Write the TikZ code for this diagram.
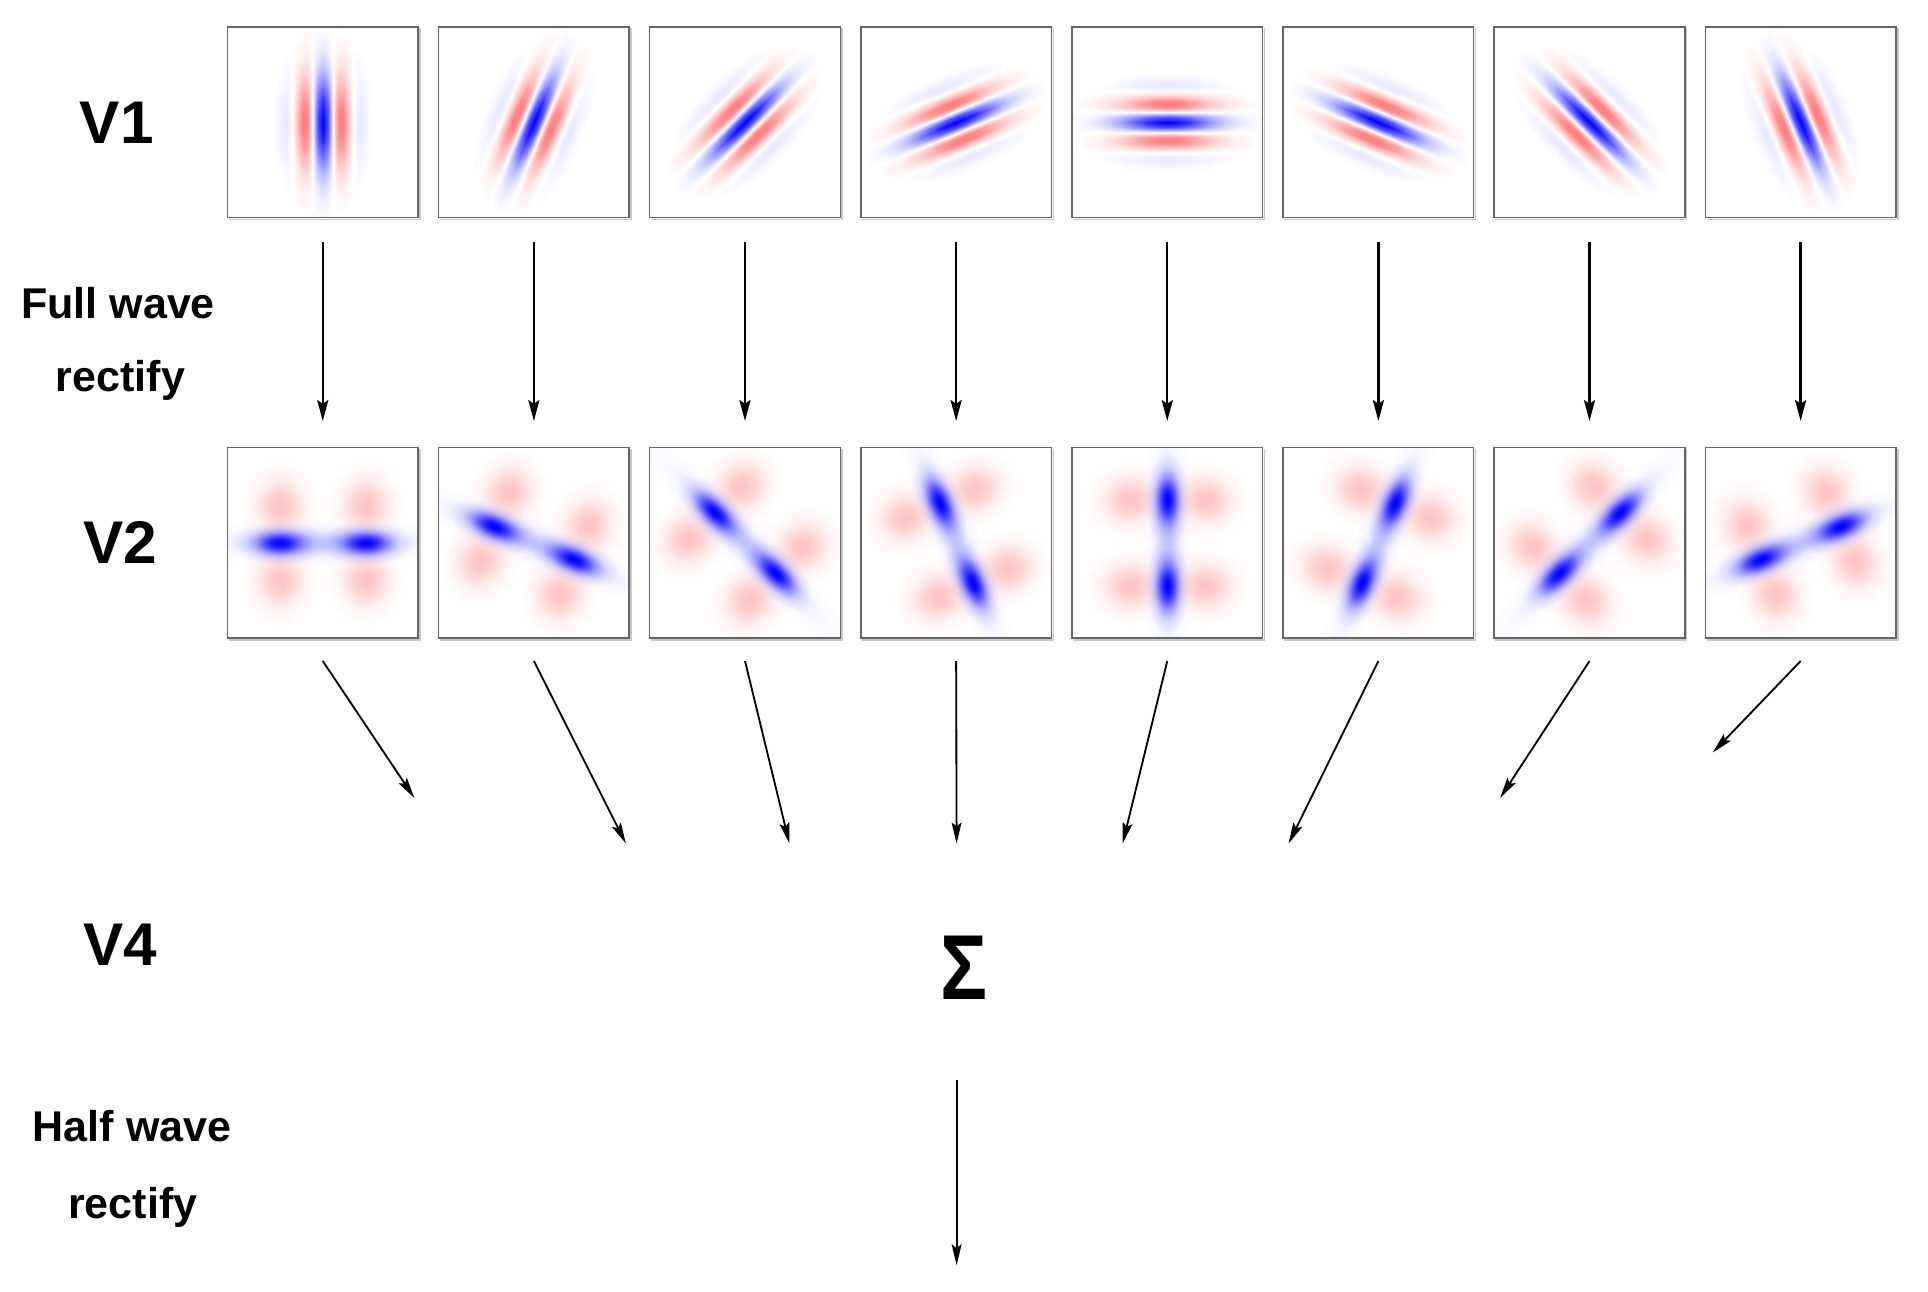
\documentclass[tikz,border=0pt]{standalone}
\usepackage{fontspec}
\usepackage{graphicx}
\setmainfont{Liberation Sans}
\usetikzlibrary{arrows.meta,fadings}

% Gaussian fading (sigma = 25bp/3), fitted so that 3 sigma = path half size
\pgfdeclareradialshading{gaussshade}{\pgfpointorigin}{color(0bp)=(white); color(2.5bp)=(white!96!black); color(5bp)=(white!84!black); color(7.5bp)=(white!67!black); color(10bp)=(white!49!black); color(12.5bp)=(white!32!black); color(15bp)=(white!20!black); color(17.5bp)=(white!11!black); color(20bp)=(white!6!black); color(22.5bp)=(white!3!black); color(25bp)=(black); color(50bp)=(black)}
\pgfdeclarefading{gauss}{\pgfuseshading{gaussshade}}

% cosine carrier (blue positive, red negative), wavelength 20bp
\pgfdeclareverticalshading{carrier}{100bp}{color(0bp)=(white); color(25bp)=(white); color(27.5bp)=(blue!71); color(30bp)=(blue); color(32.5bp)=(blue!71); color(35bp)=(white); color(37.5bp)=(red!71); color(40bp)=(red); color(42.5bp)=(red!71); color(45bp)=(white); color(47.5bp)=(blue!71); color(50bp)=(blue); color(52.5bp)=(blue!71); color(55bp)=(white); color(57.5bp)=(red!71); color(60bp)=(red); color(62.5bp)=(red!71); color(65bp)=(white); color(67.5bp)=(blue!71); color(70bp)=(blue); color(72.5bp)=(blue!71); color(75bp)=(white); color(100bp)=(white)}

\definecolor{boxgray}{RGB}{100,100,100}
\definecolor{shadowgray}{RGB}{200,200,200}

\newcommand\gblob[6]{\fill[#1, fill opacity=#2, path fading=gauss] (#3,#4) ellipse ({3*#5} and {3*#6});}

\tikzset{
  vbox/.style={draw=boxgray, line width=1.2pt, minimum size=155pt, inner sep=0pt},
  bigl/.style={font=\fontsize{49}{49}\selectfont\bfseries, anchor=base, inner sep=0pt},
  smalll/.style={font=\fontsize{35}{35}\selectfont\bfseries, anchor=base, inner sep=0pt},
  arrA/.style={-{Stealth[length=17pt,width=9pt,inset=3pt]}, line width=2pt},
  arrB/.style={-{Stealth[length=17pt,width=8pt,inset=3pt]}, line width=1.5pt}
}

\begin{document}
\begin{tikzpicture}[x=1pt,y=1pt]
\fill[white] (0,0) rectangle (1568,1050);
\useasboundingbox (0,0) rectangle (1568,1050);

% ---------- V1 row (Gabor filters) ----------
\foreach \k in {1,...,8}{
  \pgfmathsetmacro\cx{262.5+171.7*(\k-1)}
  \pgfmathsetmacro\angA{90-22.5*(\k-1)}
  \begin{scope}
    \clip (\cx-77.5,873) rectangle (\cx+77.5,1028);
    \begin{scope}[transform canvas={shift={(\cx,950.5)},rotate=\angA}]
      \shade[shading=carrier, path fading=gauss] (-80,-42) rectangle (80,42);
    \end{scope}
  \end{scope}
  \draw[shadowgray, line width=1.2pt] (\cx-76.5,871.5) -- (\cx+79,871.5) -- (\cx+79,1027);
  \node[vbox] (a\k) at (\cx,950.5) {};
}

% ---------- V2 row ----------
\foreach \k in {1,...,8}{
  \pgfmathsetmacro\cx{262.5+171.7*(\k-1)}
  \pgfmathsetmacro\angB{-22.5*(\k-1)}
  \begin{scope}
    \clip (\cx-77.5,531) rectangle (\cx+77.5,686);
    \begin{scope}[transform canvas={shift={(\cx,608.5)},rotate=\angB}]
      \gblob{red}{0.24}{-35}{30}{12}{14}
      \gblob{red}{0.24}{35}{30}{12}{14}
      \gblob{red}{0.24}{-35}{-30}{12}{14}
      \gblob{red}{0.24}{35}{-30}{12}{14}
      \gblob{white}{0.8}{0}{0}{60}{9}
      \gblob{blue}{0.2}{0}{0}{45}{7}
      \gblob{blue}{1}{-35}{0}{13}{6}
      \gblob{blue}{1}{35}{0}{13}{6}
    \end{scope}
  \end{scope}
  \draw[shadowgray, line width=1.2pt] (\cx-76.5,529.5) -- (\cx+79,529.5) -- (\cx+79,685);
  \node[vbox] (b\k) at (\cx,608.5) {};
}

% ---------- arrows V1 -> V2 ----------
\foreach \k in {1,...,8}{
  \draw[arrA] ([yshift=-19pt]a\k.south) -- ([yshift=21pt]b\k.north);
}

% ---------- arrows V2 -> V4 ----------
\coordinate (e1) at (337,401);
\coordinate (e2) at (509,364);
\coordinate (e3) at (642,364);
\coordinate (e4) at (778,364);
\coordinate (e5) at (913,364);
\coordinate (e6) at (1048,364);
\coordinate (e7) at (1220,401);
\coordinate (e8) at (1393,438);
\foreach \k in {1,...,8}{
  \draw[arrB] ([yshift=-18pt]b\k.south) -- (e\k);
}

% ---------- labels ----------
\node[bigl] (lv1) at (95,933.5) {V1};
\node[smalll] (lfw1) at (96,791) {Full wave};
\node[smalll] (lfw2) at (98,731.5) {rectify};
\node[bigl] (lv2) at (98,592) {V2};
\node[bigl] (lv4) at (98,265) {V4};
\node[smalll] (lhw1) at (107.5,121.5) {Half wave};
\node[smalll] (lhw2) at (108,59.3) {rectify};

% ---------- sum and output ----------
\node[font=\fontsize{75}{75}\selectfont\bfseries, anchor=base, inner sep=0pt] (sig) at (784,237) {\scalebox{0.85}[1]{Σ}};
\coordinate (hout) at (778,21);
\draw[arrB] ([xshift=-6pt,yshift=-65pt]sig.south) -- (hout);
\end{tikzpicture}
\end{document}
